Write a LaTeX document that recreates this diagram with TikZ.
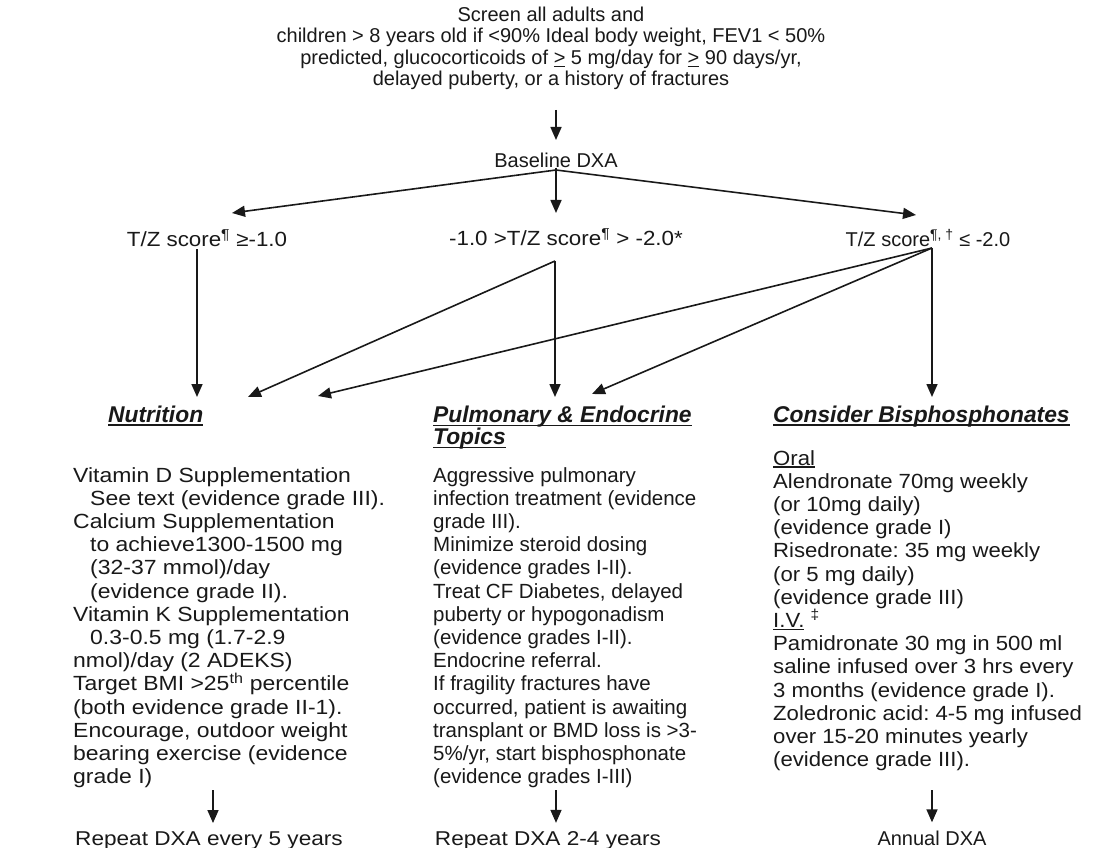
\documentclass[tikz,border=0pt]{standalone}
\usepackage{fontspec}
\setmainfont{Liberation Sans}
\newfontfamily\fsA[FakeStretch=1.12]{Liberation Sans}
\newfontfamily\fsB[FakeStretch=1.09]{Liberation Sans}
\newfontfamily\fsC[FakeStretch=1.08]{Liberation Sans}
\newfontfamily\fsD[FakeStretch=1.13]{Liberation Sans}
\usetikzlibrary{arrows.meta}
\definecolor{ink}{RGB}{25,25,25}
\newcommand\myul[1]{\setbox0\hbox{#1}\rlap{\rule[-3.5pt]{\wd0}{1.6pt}}\box0\relax}
\newcommand\myuls[1]{\setbox0\hbox{#1}\rlap{\rule[-2.5pt]{\wd0}{1.2pt}}\box0\relax}
\frenchspacing
\begin{document}
\frenchspacing
\begin{tikzpicture}[x=1pt,y=-1pt,
  txt/.style={inner sep=0pt, text=ink, font=\fontsize{20}{21.5}\selectfont},
  col/.style={inner sep=0pt, text=ink, align=left, anchor=north west, font=\fontsize{20.5}{23.2}\selectfont},
  hd/.style={inner sep=0pt, text=ink, align=left, font=\fontsize{22.8}{21}\selectfont\bfseries\itshape},
  arr/.style={draw=ink, line width=1.6pt, -{Triangle[length=13pt,width=11pt]}}]
\useasboundingbox[fill=white] (0,0) rectangle (1096,848);

% top block
\node[txt, align=center] (top) at (551,48.5) {Screen all adults and\\children > 8 years old if <90\% Ideal body weight, FEV1 < 50\%\\predicted, glucocorticoids of \myuls{>} 5 mg/day for \myuls{>} 90 days/yr,\\delayed puberty, or a history of fractures};
\node[txt] (dxa) at (556,160) {Baseline DXA};

% level 2
\node[txt, font=\fontsize{20.5}{21}\fsB] (s1) at (207,238) {T/Z score\textsuperscript{¶} ≥-1.0};
\node[txt, font=\fontsize{20.5}{21}\fsB] (s2) at (566,237) {-1.0 >T/Z score\textsuperscript{¶} > -2.0*};
\node[txt] (s3) at (928,238) {T/Z score\textsuperscript{¶, †} ≤ -2.0};

% headings
\node[hd, anchor=base west] (hn) at (108,422.5) {\myul{Nutrition}};
\node[hd, anchor=north west] (hp) at (433,406) {\myul{Pulmonary \& Endocrine}\\\myul{Topics}};
\node[hd, anchor=base west] (hb) at (773,422.5) {\myul{Consider Bisphosphonates}};

% columns
\node[col, font=\fontsize{20.5}{23.2}\fsA] (nut) at (73,467) {Vitamin D Supplementation\\
\hspace*{17pt}See text (evidence grade III).\\
Calcium Supplementation\\
\hspace*{17pt}to achieve1300-1500 mg\\
\hspace*{17pt}(32-37 mmol)/day\\
\hspace*{17pt}(evidence grade II).\\
Vitamin K Supplementation\\
\hspace*{17pt}0.3-0.5 mg (1.7-2.9\\
nmol)/day (2 ADEKS)\\
Target BMI >25\textsuperscript{th} percentile\\
(both evidence grade II-1).\\
Encourage, outdoor weight\\
bearing exercise (evidence\\
grade I)};

\node[col] (pul) at (433,467) {Aggressive pulmonary\\
infection treatment (evidence\\
grade III).\\
Minimize steroid dosing\\
(evidence grades I-II).\\
Treat CF Diabetes, delayed\\
puberty or hypogonadism\\
(evidence grades I-II).\\
Endocrine referral.\\
If fragility fractures have\\
occurred, patient is awaiting\\
transplant or BMD loss is >3-\\
5\%/yr, start bisphosphonate\\
(evidence grades I-III)};

\node[col, font=\fontsize{20.5}{23.2}\fsC] (bis) at (773,450) {\myuls{Oral}\\
Alendronate 70mg weekly\\
(or 10mg daily)\\
(evidence grade I)\\
Risedronate: 35 mg weekly\\
(or 5 mg daily)\\
(evidence grade III)\\
\myuls{I.V.} \textsuperscript{‡}\\
Pamidronate 30 mg in 500 ml\\
saline infused over 3 hrs every\\
3 months (evidence grade I).\\
Zoledronic acid: 4-5 mg infused\\
over 15-20 minutes yearly\\
(evidence grade III).};

% bottom
\node[txt, anchor=base, font=\fontsize{20}{21}\fsD] (r1) at (209,845) {Repeat DXA every 5 years};
\node[txt, anchor=base, font=\fontsize{20}{21}\fsD] (r2) at (548,845) {Repeat DXA 2-4 years};
\node[txt, anchor=base] (r3) at (932,845) {Annual DXA};

% junction / target coordinates
\coordinate (d0) at (556,110);
\coordinate (d1) at (556,140);
\coordinate (dj) at (556,170);
\coordinate (t1) at (232,213);
\coordinate (t2) at (556,213);
\coordinate (t3) at (916,215);
\coordinate (s1b) at (197,249);
\coordinate (s2b) at (555,261);
\coordinate (s3b) at (932,248);
\coordinate (n1) at (197,397);
\coordinate (n2) at (248,397);
\coordinate (n3) at (318,396);
\coordinate (p1) at (555,397);
\coordinate (p2) at (592,394);
\coordinate (b1) at (932,397);
\coordinate (e1) at (213,790);
\coordinate (e2) at (556,790);
\coordinate (e3) at (932,790);

\draw[arr] (d0) -- (d1);
\draw[arr] (dj) -- (t1);
\draw[arr] (dj) -- (t2);
\draw[arr] (dj) -- (t3);
\draw[draw=ink, line width=1.6pt] (dxa.south) -- (dj);

\draw[arr] (s1b) -- (n1);
\draw[arr] (s2b) -- (n2);
\draw[arr] (s2b) -- (p1);
\draw[arr] (s3b) -- (n3);
\draw[arr] (s3b) -- (p2);
\draw[arr] (s3b) -- (b1);

\draw[arr, shorten >=8pt] (e1) -- (e1 |- r1.north);
\draw[arr, shorten >=8pt] (e2) -- (e2 |- r2.north);
\draw[arr, shorten >=8pt] (e3) -- (e3 |- r3.north);
\end{tikzpicture}
\end{document}
